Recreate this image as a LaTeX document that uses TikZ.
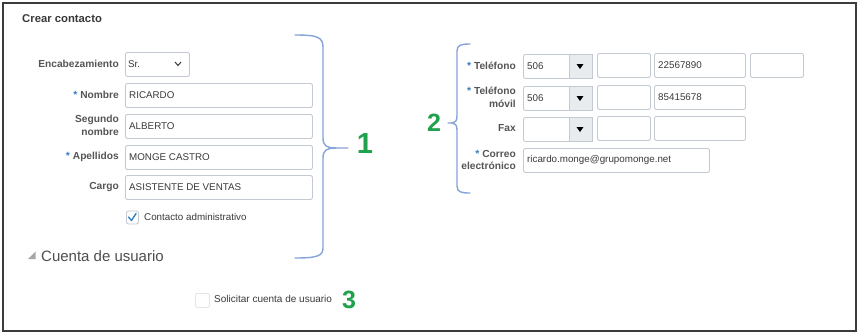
\documentclass[tikz,border=0pt]{standalone}
\usepackage{fontspec}
\setmainfont{Liberation Sans}
\begin{document}
\begin{tikzpicture}[x=1pt,y=-1pt,
  lbl/.style={font=\fontsize{10.2}{12.8}\selectfont\bfseries, text=labgray, inner sep=0pt, align=right},
  ftext/.style={font=\fontsize{9.8}{11}\selectfont, text=txtgray, inner sep=0pt, anchor=west},
  field/.style={draw=fieldborder, line width=0.9pt, rounded corners=2pt, fill=white, inner sep=0pt, anchor=north west},
  btn/.style={draw=fieldborder, line width=0.9pt, fill=btngray, inner sep=0pt, anchor=north west},
  brace/.style={draw=bracecol, line width=1.4pt, line cap=round},
  num/.style={text=numgreen, inner sep=0pt, font=\bfseries}
]
\definecolor{labgray}{HTML}{555555}
\definecolor{txtgray}{HTML}{3A3A3A}
\definecolor{fieldborder}{HTML}{C3CAD2}
\definecolor{btngray}{HTML}{E9ECEF}
\definecolor{bracecol}{HTML}{86A3DA}
\definecolor{numgreen}{HTML}{1FA24B}
\definecolor{astblue}{HTML}{3A7FC1}
\definecolor{framecol}{HTML}{3C3C3C}
\newcommand{\reqmark}{{\color{astblue}\raisebox{0pt}{\fontsize{10.5}{10}\selectfont*}}\ }
\useasboundingbox (0,0) rectangle (858,333);
\fill[white] (0,0) rectangle (858,333);
\draw[framecol, line width=2pt] (3,3) rectangle (856,331);

\node[font=\fontsize{11.3}{12}\selectfont\bfseries, text=txtgray, anchor=west, inner sep=0pt] (title) at (22,19) {Crear contacto};

% ---------- left form ----------
\node[lbl, anchor=east] (lenc) at (119,64) {Encabezamiento};
\node[field, minimum width=64pt, minimum height=24pt] (fenc) at (125,52) {};
\node[ftext] (tenc) at (128,64) {Sr.};
\draw[txtgray, line width=1pt] (175,62) -- (178,65.5) -- (181,62);

\node[lbl, anchor=east] (lnom) at (119,95) {\reqmark Nombre};
\node[field, minimum width=187pt, minimum height=24pt] (fnom) at (125,83) {};
\node[ftext] (tnom) at (129,95) {RICARDO};

\node[lbl, anchor=east] (lseg) at (119,125.5) {Segundo\\nombre};
\node[field, minimum width=187pt, minimum height=24pt] (fseg) at (125,114) {};
\node[ftext] (tseg) at (129,126) {ALBERTO};

\node[lbl, anchor=east] (lape) at (119,157) {\reqmark Apellidos};
\node[field, minimum width=187pt, minimum height=24pt] (fape) at (125,145) {};
\node[ftext] (tape) at (129,157) {MONGE CASTRO};

\node[lbl, anchor=east] (lcar) at (119,187) {Cargo};
\node[field, minimum width=187pt, minimum height=24pt] (fcar) at (125,175) {};
\node[ftext] (tcar) at (129,187) {ASISTENTE DE VENTAS};

\node[field, minimum width=12pt, minimum height=13pt] (chk1) at (126,210.5) {};
\draw[astblue, line width=1.4pt, line cap=round, line join=round] (128.5,217) -- (131.5,220.5) -- (136,213.5);
\node[ftext, font=\fontsize{9.8}{11}\selectfont] (tchk1) at (144,216.5) {Contacto administrativo};

\fill[gray!70] (35.5,251.5) -- (35.5,259) -- (28,259) -- cycle;
\node[font=\fontsize{15}{17}\selectfont, text=txtgray!90, anchor=west, inner sep=0pt] (cuenta) at (41,256.5) {Cuenta de usuario};

\node[field, draw=fieldborder!50, minimum width=14pt, minimum height=14pt] (chk2) at (195,293) {};
\node[ftext, font=\fontsize{10}{11}\selectfont] (tchk2) at (214,299) {Solicitar cuenta de usuario};

% brace 1
\path[brace] (295,35) .. controls (317,35) and (323,37) .. (323,47) -- (323,138)
  .. controls (323,146) and (327,148) .. (336,148) -- (348,148);
\path[brace] (336,148) .. controls (327,148) and (323,150) .. (323,158) -- (323,248)
  .. controls (323,256) and (317,258) .. (295,258);
\node[num, font=\fontsize{29}{30}\selectfont\bfseries] (n1) at (365,144) {1};
\node[num, font=\fontsize{25}{26}\selectfont\bfseries] (n3) at (349,300) {3};

% ---------- right form ----------
\path[brace] (470,44) .. controls (461,44) and (457,45) .. (457,51) -- (457,116)
  .. controls (457,121) and (455,123) .. (452,123) -- (448,123);
\path[brace] (452,123) .. controls (455,123) and (457,125) .. (457,130) -- (457,186)
  .. controls (457,192) and (461,193) .. (470,193);
\node[num, font=\fontsize{25}{26}\selectfont\bfseries] (n2) at (434,123) {2};

% row telefono
\node[lbl, anchor=east] (ltel) at (516,66) {\reqmark Teléfono};
\node[field, minimum width=69pt, minimum height=24pt] (ftel) at (523,54) {};
\node[btn, minimum width=23pt, minimum height=24pt] (btel) at (569,54) {};
\fill[black] (576.5,64) -- (583.5,64) -- (580,69) -- cycle;
\node[ftext] (ttel) at (527,66) {506};
\node[field, minimum width=53pt, minimum height=24pt] (ftel2) at (597,53) {};
\node[field, minimum width=91pt, minimum height=24pt] (ftel3) at (654,53) {};
\node[ftext] (ttel3) at (658,65) {22567890};
\node[field, minimum width=53pt, minimum height=24pt] (ftel4) at (750,53) {};

% row movil
\node[lbl, anchor=east] (lmov) at (516,97.5) {\reqmark Teléfono\\móvil};
\node[field, minimum width=69pt, minimum height=24pt] (fmov) at (523,86) {};
\node[btn, minimum width=23pt, minimum height=24pt] (bmov) at (569,86) {};
\fill[black] (576.5,96) -- (583.5,96) -- (580,101) -- cycle;
\node[ftext] (tmov) at (527,98) {506};
\node[field, minimum width=53pt, minimum height=24pt] (fmov2) at (597,85) {};
\node[field, minimum width=91pt, minimum height=24pt] (fmov3) at (654,85) {};
\node[ftext] (tmov3) at (658,97) {85415678};

% row fax
\node[lbl, anchor=east] (lfax) at (516,128.5) {Fax};
\node[field, minimum width=69pt, minimum height=24pt] (ffax) at (523,117) {};
\node[btn, minimum width=23pt, minimum height=24pt] (bfax) at (569,117) {};
\fill[black] (576.5,127) -- (583.5,127) -- (580,132) -- cycle;
\node[field, minimum width=53pt, minimum height=24pt] (ffax2) at (597,116) {};
\node[field, minimum width=91pt, minimum height=24pt] (ffax3) at (654,116) {};

% row correo
\node[lbl, anchor=east] (lcor) at (516,160) {\reqmark Correo\\electrónico};
\node[field, minimum width=186pt, minimum height=24pt] (fcor) at (523,148) {};
\node[ftext] (tcor) at (527,160) {ricardo.monge@grupomonge.net};
\end{tikzpicture}
\end{document}
